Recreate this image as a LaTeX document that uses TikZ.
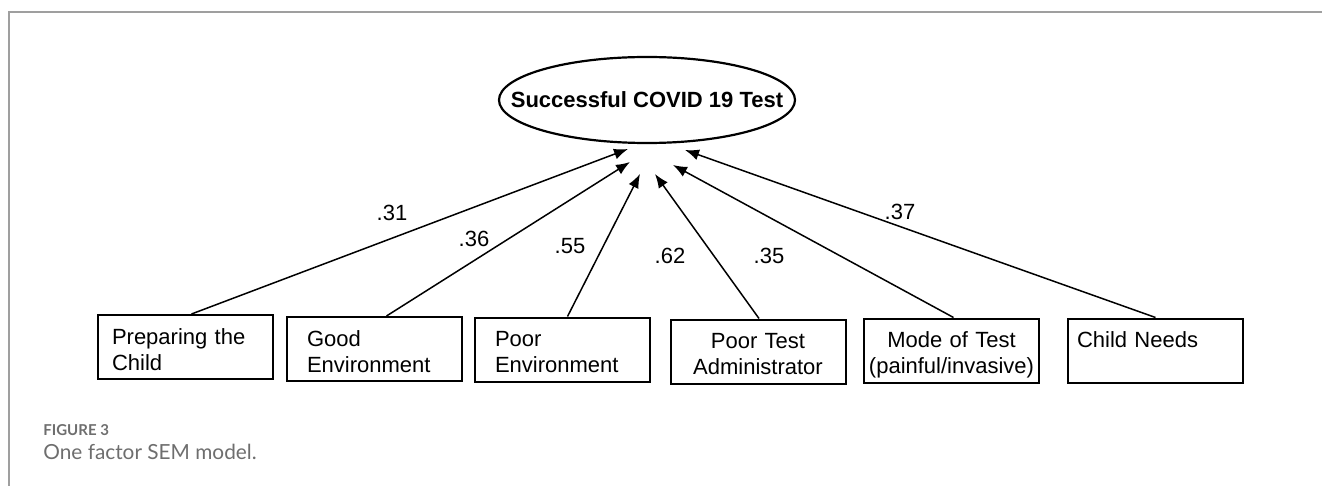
\documentclass[tikz,border=0pt]{standalone}
\usepackage{fontspec}
\setmainfont{Liberation Sans}
\newfontfamily\capfont{Lato}
\usetikzlibrary{arrows.meta}
\definecolor{capgray}{HTML}{6E6E6E}
\begin{document}
\begin{tikzpicture}[x=.5pt,y=-.5pt,
  obs/.style={draw,line width=1pt,font=\fontsize{11}{13}\selectfont,inner ysep=0pt,text height=14.5pt,text depth=17.5pt},
  load/.style={-{Latex[length=7pt,width=5.5pt]},line width=.75pt},
  coef/.style={font=\fontsize{11}{13}\selectfont,inner sep=0pt}]
  \useasboundingbox (0,0) rectangle (1322,486);
  \draw[gray!75,line width=.8pt] (9,486)--(9,12)--(1322,12);
  % latent factor
  \node[inner sep=0pt,font=\bfseries\fontsize{11}{13}\selectfont] (lat) at (647,100) {Successful COVID 19 Test};
  \draw[line width=1.1pt] (lat.center) ellipse [x radius=74pt,y radius=21.5pt];
  % indicators
  \node[obs,align=left,inner xsep=7pt,text width=73.5pt] (prep) at (185.5,347) {Preparing the\\Child};
  \node[obs,align=left,inner xsep=10pt,text width=67.5pt] (good) at (374.5,349) {Good\\Environment};
  \node[obs,align=left,inner xsep=10pt,text width=67.5pt] (poorenv) at (562.5,349.5) {Poor\\Environment};
  \node[obs,align=center,inner xsep=2pt,text width=83.5pt] (admin) at (758,351.5) {Poor Test\\Administrator};
  \node[obs,align=center,inner xsep=2pt,text width=83.5pt] (mode) at (951.5,350.5) {Mode of Test\\(painful/invasive)};
  \node[obs,align=left,inner xsep=4.5pt,text width=78.5pt] (needs) at (1155.5,350.5) {Child Needs};
  % arrow tips below the ellipse
  \coordinate (t1) at (628,149); \coordinate (t2) at (630,162); \coordinate (t3) at (640,174);
  \coordinate (t4) at (655,174); \coordinate (t5) at (673,165); \coordinate (t6) at (685,150);
  \foreach \b/\s/\t in {prep/3/t1,good/6/t2,poorenv/2.5/t3,admin/.5/t4,mode/1/t5,needs/0/t6} {\draw[load] ([xshift=\s pt]\b.north) -- (\t);}
  % loadings
  \node[coef] (l1) at (392,213) {.31}; \node[coef] (l2) at (474,239) {.36}; \node[coef] (l3) at (570,246) {.55};
  \node[coef] (l4) at (670,256) {.62}; \node[coef] (l5) at (769,256) {.35}; \node[coef] (l6) at (900,212) {.37};
  % caption
  \node[anchor=base west,inner sep=0pt,text=capgray,font=\capfont\bfseries\fontsize{7.5}{9}\selectfont] (fig) at (43,435) {FIGURE 3};
  \node[anchor=base west,inner sep=0pt,text=capgray,font=\capfont\fontsize{10.4}{12}\selectfont] (cap) at (43,459) {One factor SEM model.};
\end{tikzpicture}
\end{document}
